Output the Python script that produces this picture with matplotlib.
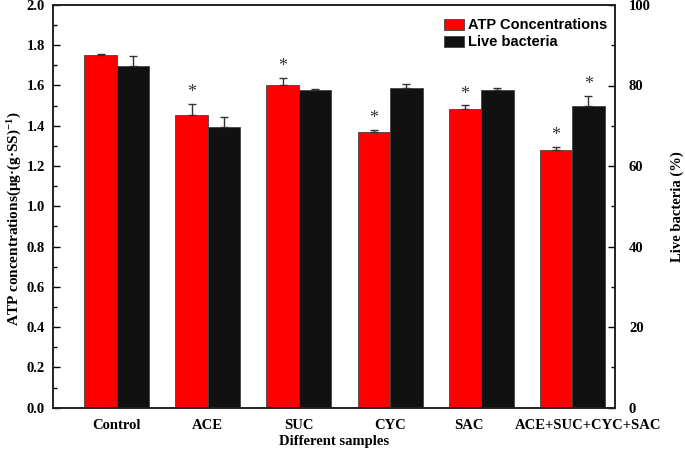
import numpy as np
import matplotlib.pyplot as plt
import matplotlib.transforms as mtrans
from matplotlib.ticker import MultipleLocator

samples = ['Control', 'ACE', 'SUC', 'CYC', 'SAC', 'ACE+SUC+CYC+SAC']
atp = [1.751, 1.455, 1.600, 1.368, 1.481, 1.279]
atp_err = [0.004, 0.053, 0.038, 0.010, 0.020, 0.015]
live = [84.8, 69.7, 79.0, 79.3, 79.0, 75.0]
live_err = [2.5, 2.5, 0.15, 1.1, 0.3, 2.4]
atp_star = [False, True, True, True, True, True]
live_star = [False, False, False, False, False, True]

serif = 'Liberation Serif'
plt.rcParams['mathtext.fontset'] = 'custom'
plt.rcParams['mathtext.rm'] = 'Liberation Serif:bold'
plt.rcParams['mathtext.bf'] = 'Liberation Serif:bold'
plt.rcParams['mathtext.default'] = 'bf'

x = np.arange(len(samples))
w = 0.357

fig = plt.figure(figsize=(6.85, 4.5), dpi=100)
ax = fig.add_axes([0.0774, 0.094, 0.8204, 0.895])
ax2 = ax.twinx()

ekw = dict(ecolor='#333333', elinewidth=1.0, capthick=1.0)
b1 = ax.bar(x - w / 2, atp, w, color='#ff0000', edgecolor='#444444', linewidth=0.6,
            yerr=[np.zeros(len(atp)), atp_err], capsize=3, error_kw=ekw,
            label='ATP Concentrations')
b2 = ax2.bar(x + w / 2, live, w, color='#111111', edgecolor='#444444', linewidth=0.6,
             yerr=[np.zeros(len(live)), live_err], capsize=3, error_kw=ekw,
             label='Live bacteria')

for i in range(len(samples)):
    if atp_star[i]:
        ax.text(x[i] - w / 2, atp[i] + atp_err[i] + 0.014, '*', ha='center', va='bottom',
                fontsize=13, family=serif, color='#333333')
    if live_star[i]:
        ax2.text(x[i] + w / 2, live[i] + live_err[i] + 0.7, '*', ha='center', va='bottom',
                 fontsize=13, family=serif, color='#333333')

ax.set_xlim(-0.70, 5.47)
ax.set_ylim(0, 2.0)
ax2.set_ylim(0, 100)
ax.set_xticks(x)
ax.set_xticklabels(samples, family=serif, fontweight='bold', fontsize=10.5)
ax.tick_params(axis='x', length=0, pad=8)
# the reference shifts the last two labels apart
shifts = [0, 0, 0, 0, -12, 16]
for lab, dx in zip(ax.get_xticklabels(), shifts):
    lab.set_transform(lab.get_transform() + mtrans.ScaledTranslation(dx / 100, 0, fig.dpi_scale_trans))

ax.yaxis.set_major_locator(MultipleLocator(0.2))
ax.yaxis.set_minor_locator(MultipleLocator(0.1))
ax2.yaxis.set_major_locator(MultipleLocator(20))
ax2.yaxis.set_minor_locator(MultipleLocator(10))
ax.yaxis.set_major_formatter(plt.FormatStrFormatter('%.1f'))
for a in (ax, ax2):
    a.tick_params(axis='y', which='major', direction='in', length=5, width=1)
    a.tick_params(axis='y', which='minor', direction='in', length=3, width=1)
    for lab in a.get_yticklabels():
        lab.set_family(serif)
        lab.set_fontweight('bold')
        lab.set_fontsize(10.5)
    for s in a.spines.values():
        s.set_linewidth(1.2)
        s.set_color('#222222')
ax.tick_params(axis='y', pad=6)
ax2.tick_params(axis='y', pad=10)

ax.set_xlabel('Different samples', family=serif, fontweight='bold', fontsize=10.5, labelpad=2)
ax.set_ylabel('ATP concentrations(μg·(g·SS)$^{-1}$)', family=serif,
              fontweight='bold', fontsize=11, labelpad=4)
ax.yaxis.set_label_coords(-0.052, 0.47)
ax2.set_ylabel('Live bacteria (%)', family=serif, fontweight='bold', fontsize=10.5, labelpad=14)

leg = ax2.legend(handles=[b1, b2], loc='upper right', bbox_to_anchor=(1.0, 0.985), frameon=False,
                 prop={'family': 'Liberation Sans', 'weight': 'bold', 'size': 10.5},
                 handlelength=1.4, handleheight=0.8, handletextpad=0.3,
                 labelspacing=0.2, borderaxespad=0.1)

fig.savefig('out.png', dpi=100)
